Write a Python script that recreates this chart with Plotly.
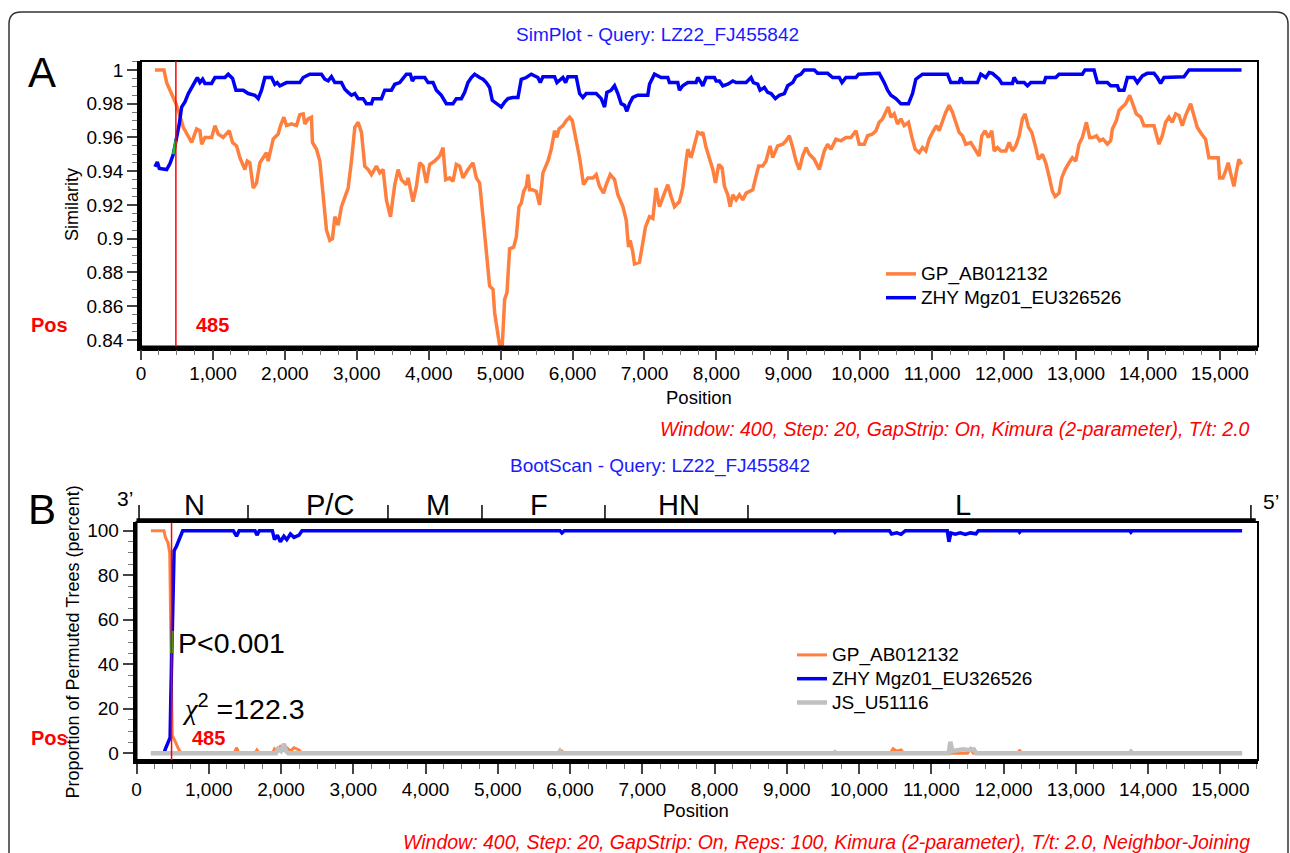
import plotly.graph_objects as go

W, H = 1290, 853
def px(x): return x / W
def py(y): return 1 - y / H

# ---------------- DATA ----------------
breakpoint_pos = 485

# Panel A: SimPlot similarity
simA_gp_pos = [194, 319, 357, 426, 486, 532, 588, 653, 704, 773, 819, 843, 889, 982, 1028, 1074, 1143, 1227, 1273, 1329,
    1375, 1444, 1477, 1514, 1560, 1606, 1653, 1745, 1768, 1838, 1907, 1940, 1986, 2023, 2093, 2162, 2208, 2255, 2278, 2324,
    2370, 2384, 2440, 2486, 2533, 2579, 2625, 2662, 2695, 2741, 2787, 2834, 2880, 2926, 2973, 3019, 3065, 3111, 3158, 3204,
    3273, 3320, 3366, 3412, 3468, 3528, 3574, 3620, 3690, 3713, 3782, 3829, 3875, 3921, 3968, 4014, 4083, 4153, 4199, 4236,
    4292, 4338, 4384, 4431, 4477, 4546, 4616, 4662, 4708, 4755, 4801, 4847, 4894, 4917, 4963, 4986, 5023, 5056, 5088, 5125,
    5181, 5218, 5255, 5287, 5320, 5357, 5380, 5403, 5440, 5496, 5542, 5588, 5658, 5704, 5750, 5783, 5811, 5866, 5912, 5959,
    5996, 6051, 6098, 6153, 6213, 6283, 6329, 6375, 6431, 6468, 6524, 6584, 6630, 6700, 6746, 6778, 6801, 6838, 6861, 6931,
    6968, 7014, 7070, 7116, 7162, 7208, 7278, 7324, 7370, 7417, 7486, 7532, 7579, 7602, 7648, 7694, 7741, 7787, 7811, 7857,
    7903, 7950, 7987, 8033, 8079, 8112, 8158, 8191, 8228, 8274, 8320, 8366, 8413, 8505, 8551, 8588, 8644, 8690, 8746, 8783,
    8852, 8922, 8968, 9014, 9061, 9107, 9153, 9199, 9246, 9292, 9361, 9431, 9500, 9546, 9593, 9662, 9732, 9801, 9871, 9940,
    9986, 10056, 10102, 10171, 10218, 10264, 10310, 10357, 10389, 10426, 10472, 10518, 10565, 10611, 10671, 10718, 10764,
    10820, 10866, 10912, 10958, 11005, 11060, 11097, 11143, 11189, 11236, 11282, 11328, 11375, 11421, 11467, 11537, 11597,
    11653, 11690, 11736, 11782, 11829, 11862, 11908, 11954, 12024, 12070, 12116, 12162, 12209, 12255, 12292, 12339, 12385,
    12440, 12477, 12533, 12579, 12625, 12672, 12709, 12764, 12801, 12848, 12903, 12949, 12996, 13042, 13088, 13144, 13190,
    13237, 13283, 13329, 13375, 13436, 13482, 13505, 13561, 13598, 13644, 13690, 13746, 13792, 13838, 13899, 13945, 14014,
    14084, 14153, 14200, 14246, 14292, 14338, 14385, 14431, 14477, 14523, 14593, 14639, 14685, 14745, 14801, 14847, 14917,
    14977, 14996, 15042, 15079, 15116, 15148, 15195, 15227, 15264, 15301]
simA_gp_val = [1.000, 1.000, 0.9925, 0.9857, 0.980, 0.974, 0.966, 0.961, 0.957, 0.965, 0.964, 0.956, 0.960, 0.960, 0.967,
    0.962, 0.960, 0.964, 0.957, 0.955, 0.948, 0.941, 0.946, 0.945, 0.930, 0.933, 0.945, 0.951, 0.946, 0.959, 0.962, 0.967,
    0.972, 0.967, 0.968, 0.967, 0.9735, 0.974, 0.968, 0.971, 0.972, 0.957, 0.953, 0.946, 0.927, 0.905, 0.899, 0.900, 0.913,
    0.908, 0.919, 0.925, 0.930, 0.946, 0.966, 0.969, 0.963, 0.943, 0.941, 0.938, 0.943, 0.939, 0.941, 0.923, 0.913, 0.932,
    0.941, 0.935, 0.932, 0.936, 0.922, 0.931, 0.945, 0.943, 0.933, 0.944, 0.946, 0.949, 0.954, 0.935, 0.936, 0.934, 0.944,
    0.943, 0.936, 0.941, 0.945, 0.936, 0.933, 0.913, 0.892, 0.872, 0.870, 0.856, 0.843, 0.837, 0.837, 0.864, 0.868, 0.894,
    0.895, 0.901, 0.919, 0.921, 0.928, 0.931, 0.938, 0.929, 0.929, 0.928, 0.920, 0.939, 0.946, 0.953, 0.964, 0.960, 0.965,
    0.967, 0.970, 0.972, 0.970, 0.959, 0.948, 0.932, 0.936, 0.936, 0.938, 0.931, 0.927, 0.932, 0.938, 0.935, 0.926, 0.919,
    0.911, 0.895, 0.899, 0.892, 0.885, 0.886, 0.895, 0.907, 0.913, 0.912, 0.930, 0.919, 0.927, 0.932, 0.925, 0.919, 0.922,
    0.930, 0.946, 0.953, 0.948, 0.956, 0.963, 0.962, 0.963, 0.954, 0.948, 0.941, 0.933, 0.944, 0.942, 0.931, 0.926, 0.919,
    0.926, 0.923, 0.926, 0.923, 0.927, 0.929, 0.937, 0.943, 0.943, 0.946, 0.955, 0.948, 0.955, 0.956, 0.958, 0.961, 0.954,
    0.946, 0.941, 0.949, 0.954, 0.950, 0.947, 0.941, 0.952, 0.956, 0.953, 0.959, 0.958, 0.960, 0.960, 0.964, 0.956, 0.956,
    0.961, 0.962, 0.964, 0.969, 0.971, 0.975, 0.978, 0.972, 0.974, 0.968, 0.971, 0.967, 0.969, 0.960, 0.953, 0.951, 0.954,
    0.952, 0.959, 0.963, 0.967, 0.964, 0.970, 0.975, 0.979, 0.975, 0.969, 0.963, 0.961, 0.956, 0.957, 0.953, 0.949, 0.961,
    0.964, 0.960, 0.964, 0.952, 0.954, 0.952, 0.952, 0.957, 0.952, 0.955, 0.961, 0.971, 0.974, 0.966, 0.963, 0.954, 0.947,
    0.950, 0.945, 0.937, 0.928, 0.925, 0.927, 0.936, 0.941, 0.945, 0.948, 0.946, 0.956, 0.960, 0.969, 0.960, 0.960, 0.961,
    0.958, 0.959, 0.956, 0.958, 0.965, 0.970, 0.976, 0.978, 0.980, 0.985, 0.980, 0.974, 0.972, 0.967, 0.967, 0.967, 0.956,
    0.961, 0.969, 0.972, 0.969, 0.974, 0.973, 0.967, 0.973, 0.980, 0.973, 0.966, 0.962, 0.959, 0.948, 0.948, 0.948, 0.936,
    0.936, 0.940, 0.945, 0.939, 0.931, 0.939, 0.947, 0.944]

simA_zhy_pos = [194, 227, 255, 357, 403, 449, 486, 532, 565, 611, 658, 704, 750, 783, 819, 857, 889, 982, 1028, 1167, 1213,
    1273, 1320, 1422, 1491, 1584, 1630, 1676, 1722, 1815, 1861, 1894, 1931, 2023, 2208, 2255, 2347, 2509, 2556, 2602, 2648,
    2695, 2787, 2834, 2880, 2926, 2973, 3019, 3088, 3134, 3204, 3227, 3343, 3389, 3482, 3528, 3597, 3644, 3690, 3745, 3773,
    3806, 3945, 3991, 4060, 4107, 4176, 4245, 4338, 4384, 4454, 4500, 4546, 4593, 4639, 4708, 4755, 4801, 4847, 4884, 4940,
    5009, 5056, 5102, 5171, 5241, 5287, 5357, 5426, 5472, 5518, 5551, 5588, 5750, 5783, 5866, 5903, 5936, 6051, 6098, 6144,
    6190, 6329, 6399, 6445, 6477, 6537, 6584, 6630, 6676, 6723, 6755, 6792, 6838, 6907, 7046, 7070, 7139, 7232, 7324, 7347,
    7463, 7486, 7532, 7602, 7717, 7741, 7787, 7811, 7857, 7973, 7996, 8042, 8089, 8158, 8228, 8274, 8413, 8482, 8514, 8574,
    8607, 8667, 8713, 8760, 8820, 8875, 8945, 8991, 9061, 9107, 9176, 9222, 9361, 9407, 9546, 9616, 9709, 9746, 9801, 9940,
    9977, 10079, 10125, 10264, 10333, 10380, 10426, 10495, 10565, 10671, 10727, 10773, 10866, 11213, 11259, 11375, 11398,
    11430, 11629, 11676, 11746, 11792, 11838, 11885, 11931, 11968, 12116, 12139, 12186, 12278, 12325, 12371, 12556, 12579,
    12718, 12764, 13088, 13125, 13250, 13297, 13436, 13482, 13575, 13598, 13667, 13714, 13806, 13852, 13922, 13991, 14084,
    14130, 14176, 14223, 14501, 14570, 15301]
simA_zhy_val = [0.9426, 0.9455, 0.9416, 0.941, 0.9445, 0.950, 0.958, 0.968, 0.978, 0.981, 0.986, 0.9896, 0.9925, 0.9955,
    0.9925, 0.9945, 0.992, 0.992, 0.9955, 0.9955, 0.9975, 0.995, 0.988, 0.988, 0.986, 0.985, 0.983, 0.988, 0.9955, 0.9955,
    0.9915, 0.9925, 0.9906, 0.9925, 0.9925, 0.9955, 0.9975, 0.9975, 0.9945, 0.9935, 0.996, 0.9925, 0.9925, 0.9886, 0.9867,
    0.985, 0.986, 0.983, 0.983, 0.980, 0.980, 0.983, 0.983, 0.988, 0.988, 0.9915, 0.9925, 0.9955, 0.9975, 0.9975, 0.9935,
    0.9955, 0.9955, 0.9925, 0.9925, 0.988, 0.985, 0.980, 0.980, 0.983, 0.983, 0.9867, 0.9925, 0.9955, 0.9975, 0.9955,
    0.9945, 0.9925, 0.9896, 0.982, 0.980, 0.978, 0.981, 0.983, 0.9837, 0.9837, 0.9945, 0.9955, 0.9975, 0.9965, 0.9955,
    0.9925, 0.996, 0.996, 0.9925, 0.9955, 0.9925, 0.996, 0.996, 0.986, 0.9837, 0.986, 0.986, 0.983, 0.978, 0.9867, 0.988,
    0.9906, 0.986, 0.980, 0.979, 0.9755, 0.980, 0.9837, 0.985, 0.985, 0.9915, 0.9975, 0.9955, 0.9955, 0.9925, 0.9925, 0.988,
    0.9906, 0.9925, 0.9925, 0.9955, 0.9925, 0.9906, 0.9955, 0.9955, 0.9935, 0.9935, 0.9906, 0.9916, 0.9935, 0.9925, 0.9925,
    0.9955, 0.9925, 0.9916, 0.988, 0.9896, 0.9867, 0.986, 0.983, 0.985, 0.986, 0.9906, 0.9925, 0.996, 0.9975, 1.0, 1.0,
    0.998, 0.998, 0.9955, 0.9955, 0.9925, 0.9955, 0.9955, 0.9975, 0.9975, 0.998, 0.998, 0.9925, 0.988, 0.985, 0.983, 0.980,
    0.980, 0.986, 0.9945, 0.9975, 0.9975, 0.9925, 0.9925, 0.9955, 0.9925, 0.9925, 0.9975, 0.9955, 0.9985, 0.998, 0.996,
    0.9945, 0.992, 0.992, 0.9955, 0.9925, 0.9925, 0.9906, 0.9925, 0.9925, 0.9955, 0.9955, 0.9975, 0.9975, 1.0, 1.0, 0.9925,
    0.9925, 0.9906, 0.9906, 0.988, 0.988, 0.9955, 0.9955, 0.9925, 0.9965, 0.998, 0.998, 0.9955, 0.992, 0.9955, 0.996, 1.0,
    1.0]

# Panel B: BootScan (percent of permuted trees)
bootB_gp_pos = [200, 380, 400, 436, 460, 470, 485, 494, 540, 580, 620, 1350, 1384, 1420, 1640, 1667, 1700, 1880, 1910,
    1950, 1990, 2040, 2080, 2130, 2180, 2249, 2290, 5860, 5887, 5920, 10430, 10470, 10520, 10580, 10620, 11500, 11543,
    11580, 12200, 12221, 12245, 15300]
bootB_gp_val = [100, 100, 97, 94.5, 90, 60, 30, 8, 5, 2, 0, 0, 2.5, 0, 0, 1.5, 0, 0, 2, 1, 3, 1.5, 2.5, 1, 2.5, 1.5, 0, 0,
    1, 0, 0, 2, 1, 1.5, 0, 0, 2, 0, 0, 1.5, 0, 0]

bootB_zhy_pos = [200, 380, 400, 440, 465, 475, 485, 494, 520, 553, 609, 640, 1340, 1384, 1420, 1640, 1667, 1700, 1880,
    1910, 1950, 1990, 2040, 2080, 2130, 2180, 2249, 2290, 5860, 5887, 5920, 9650, 9666, 9685, 10420, 10450, 10520, 10580,
    10640, 11220, 11243, 11270, 11330, 11400, 11470, 11540, 11617, 11650, 12205, 12221, 12240, 13745, 13761, 13780, 15300]
bootB_zhy_val = [0, 0, 2, 5, 7, 25, 45, 55, 91, 93, 98, 100, 100, 97.5, 100, 100, 98, 100, 100, 96, 98, 95, 97.5, 96,
    98.5, 97, 98, 100, 100, 99, 100, 100, 99.3, 100, 100, 98.5, 99, 98.4, 100, 100, 95, 99, 98.4, 99, 98.3, 99, 98.6, 100,
    100, 99.3, 100, 100, 99.3, 100, 100]

bootB_js_pos = [200, 1930, 1958, 2000, 2041, 2070, 2100, 5840, 5860, 5880, 9650, 9666, 9685, 11240, 11262, 11290, 11444,
    11500, 11588, 11620, 13745, 13761, 13780, 15300]
bootB_js_val = [0, 0, 2, 1, 4.2, 1, 0, 0, 1, 0, 0, 0.5, 0, 0, 5.2, 1, 1.8, 1.5, 1.8, 0, 0, 0.7, 0, 0]

# informative-site highlight (drawn green by SimPlot)
green_span_A = (440, 490)
green_span_B = (480, 500)

# genome map above panel B
gene_bounds = [35, 1543, 3480, 4781, 6483, 8462, 15422]
gene_names = ["N", "P/C", "M", "F", "HN", "L"]
gene_label_pos = [796, 2677, 4169, 5564, 7512, 11433]

simA_yticks = [0.84, 0.86, 0.88, 0.90, 0.92, 0.94, 0.96, 0.98, 1.00]
bootB_yticks = [0, 20, 40, 60, 80, 100]

# ---------------- STYLE ----------------
FONT = "Liberation Sans, Arial, sans-serif"
ORANGE = "#FF7F3F"
BLUE = "#0000F5"
GRAY = "#C0C0C0"
GREEN = "#22C022"
RED = "#FF0000"
TBLUE = "#1A1AFF"

def lg(name):
    return f"<span style='font-size:19px'>{name}</span>"

fig = go.Figure()

def subset(pos, val, span):
    pts = [(p, v) for p, v in zip(pos, val) if span[0] <= p <= span[1]]
    return [p for p, _ in pts], [v for _, v in pts]

# Panel A traces
fig.add_trace(go.Scatter(x=simA_gp_pos, y=simA_gp_val, mode="lines", name=lg("GP_AB012132"),
                         line=dict(color=ORANGE, width=3.5), xaxis="x", yaxis="y", legend="legend"))
fig.add_trace(go.Scatter(x=simA_zhy_pos, y=simA_zhy_val, mode="lines", name=lg("ZHY Mgz01_EU326526"),
                         line=dict(color=BLUE, width=3.5), xaxis="x", yaxis="y", legend="legend"))
gx, gy = subset(simA_zhy_pos, simA_zhy_val, green_span_A)
fig.add_trace(go.Scatter(x=gx, y=gy, mode="lines", line=dict(color=GREEN, width=3), showlegend=False,
                         xaxis="x", yaxis="y"))

# Panel B traces
fig.add_trace(go.Scatter(x=bootB_gp_pos, y=bootB_gp_val, mode="lines", name=lg("GP_AB012132"),
                         line=dict(color=ORANGE, width=3), xaxis="x2", yaxis="y2", legend="legend2"))
fig.add_trace(go.Scatter(x=bootB_zhy_pos, y=bootB_zhy_val, mode="lines", name=lg("ZHY Mgz01_EU326526"),
                         line=dict(color=BLUE, width=3.5), xaxis="x2", yaxis="y2", legend="legend2"))
gx, gy = subset(bootB_zhy_pos, bootB_zhy_val, green_span_B)
fig.add_trace(go.Scatter(x=gx, y=gy, mode="lines", line=dict(color=GREEN, width=3), showlegend=False,
                         xaxis="x2", yaxis="y2"))
fig.add_trace(go.Scatter(x=bootB_js_pos, y=bootB_js_val, mode="lines", name=lg("JS_U51116"),
                         line=dict(color=GRAY, width=4.5), xaxis="x2", yaxis="y2", legend="legend2"))

tickfont = dict(family=FONT, size=19, color="black")

def xax(domain, rng, standoff):
    return dict(domain=domain, range=rng, tick0=0, dtick=1000, tickformat=",d", ticks="outside", ticklen=10,
                tickwidth=1.5, tickcolor="#444", showline=True, linewidth=3.5, linecolor="black", showgrid=False,
                zeroline=False, tickfont=tickfont, automargin=False, ticklabelstandoff=standoff,
                minor=dict(dtick=250, tick0=0, ticks="outside", ticklen=5, tickwidth=1.2, tickcolor="#777",
                           showgrid=False))

def yax(domain, rng, tv, tt, minor_dt, anchor):
    return dict(domain=domain, range=rng, tickvals=tv, ticktext=tt, ticks="outside", ticklen=10, tickwidth=1.5,
                tickcolor="#444", showline=True, linewidth=3.5, linecolor="black", showgrid=False, zeroline=False,
                tickfont=tickfont, anchor=anchor, automargin=False,
                minor=dict(dtick=minor_dt, ticks="outside", ticklen=5, tickwidth=1.2, tickcolor="#777",
                           showgrid=False))

shapes = []
# outer rounded border
shapes.append(dict(type="path", xref="paper", yref="paper",
                   path=(f"M{px(9)},{py(870)} L{px(9)},{py(24)} Q{px(9)},{py(12)} {px(21)},{py(12)} "
                         f"L{px(1276)},{py(12)} Q{px(1288)},{py(12)} {px(1288)},{py(24)} L{px(1288)},{py(870)}"),
                   line=dict(color="#333", width=1.5)))
# thin plot frames
for xa, ya in (("x", "y"), ("x2", "y2")):
    shapes.append(dict(type="rect", xref=f"{xa} domain", yref=f"{ya} domain", x0=0, x1=1, y0=0, y1=1,
                       line=dict(color="black", width=2), layer="above"))
    shapes.append(dict(type="line", xref=xa, yref=f"{ya} domain", x0=breakpoint_pos, x1=breakpoint_pos,
                       y0=0, y1=1, line=dict(color=RED, width=1.5), layer="above"))
# genome map line and ticks
shapes.append(dict(type="line", xref="x2 domain", yref="paper", x0=0, x1=0.998, y0=py(520.5), y1=py(520.5),
                   line=dict(color="black", width=4.5)))
for b in gene_bounds:
    shapes.append(dict(type="line", xref="x2", yref="paper", x0=b, x1=b, y0=py(520), y1=py(505),
                       line=dict(color="black", width=1.5)))

ann = []
def text(x, y, s, size=18, color="black", **kw):
    d = dict(x=px(x), y=py(y), xref="paper", yref="paper", text=s, showarrow=False,
             font=dict(family=FONT, size=size, color=color), xanchor="center", yanchor="middle")
    d.update(kw)
    ann.append(d)

text(658, 35, "SimPlot - Query: LZ22_FJ455842", 19, TBLUE)
text(659.5, 466.5, "BootScan - Query: LZ22_FJ455842", 19, TBLUE)
text(42, 72, "A", 42)
text(42, 509, "B", 42)
text(72, 205, "Similarity", 18, textangle=-90)
text(72.5, 642, "Proportion of Permuted Trees (percent)", 18, textangle=-90)
text(699, 397, "Position", 18.5)
text(696, 810, "Position", 18.5)
text(1252, 429, "<i>Window: 400, Step: 20, GapStrip: On, Kimura (2-parameter), T/t: 2.0</i>", 19.5, RED,
     xanchor="right")
text(1252, 842, "<i>Window: 400, Step: 20, GapStrip: On, Reps: 100, Kimura (2-parameter), T/t: 2.0, "
     "Neighbor-Joining</i>", 19.5, RED, xanchor="right")
text(49, 325, "<b>Pos</b>", 20, RED)
text(212, 325, f"<b>{breakpoint_pos}</b>", 20, RED)
text(49, 738, "<b>Pos</b>", 20, RED)
text(208, 738, f"<b>{breakpoint_pos}</b>", 20, RED)
text(231, 643, "P&lt;0.001", 28.5)
text(243, 707, "<span style='font-family:Liberation Serif'><i>χ</i></span><sup>2</sup> =122.3", 28.5)
text(124.5, 498, "3’", 21)
text(1271, 501, "5’", 21)
for name, gp in zip(gene_names, gene_label_pos):
    ann.append(dict(x=gp, y=py(505), xref="x2", yref="paper", text=name, showarrow=False,
                    font=dict(family=FONT, size=29, color="black"), xanchor="center", yanchor="middle"))

fig.update_layout(
    width=W, height=H, margin=dict(l=0, r=0, t=0, b=0, pad=0, autoexpand=False),
    paper_bgcolor="white", plot_bgcolor="white",
    xaxis=xax([px(141), px(1258)], [0, 15530], -3) | dict(anchor="y"),
    yaxis=yax([py(346.5), py(61)], [0.8361, 1.0053], simA_yticks, [f"{v:g}" for v in simA_yticks], 0.005, "x"),
    xaxis2=xax([px(136.5), px(1258)], [0, 15520], -1) | dict(anchor="y2"),
    yaxis2=yax([py(760), py(522)], [-3.0, 103.9], bootB_yticks, [str(v) for v in bootB_yticks], 5, "x2"),
    shapes=shapes, annotations=ann,
    showlegend=True,
    legend=dict(x=px(881), y=py(257), xanchor="left", yanchor="top", bgcolor="rgba(0,0,0,0)",
                font=dict(family=FONT, size=16, color="black"), tracegroupgap=0),
    legend2=dict(x=px(792), y=py(638), xanchor="left", yanchor="top", bgcolor="rgba(0,0,0,0)",
                 font=dict(family=FONT, size=16, color="black"), tracegroupgap=0),
)

fig.write_html("out.html", config={"displayModeBar": False},
               post_script="document.body.style.margin='0';document.body.style.overflow='hidden';")
